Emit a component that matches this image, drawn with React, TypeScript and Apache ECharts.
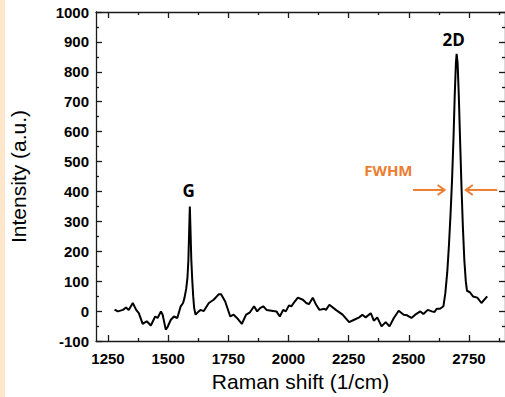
import React, { useEffect, useRef } from "react";
import * as echarts from "echarts";

// Raman spectrum (shift in 1/cm, intensity in a.u.)
const ramanShift = [
  1277, 1291, 1312, 1325, 1336, 1353, 1367, 1378, 1394, 1411, 1428, 1446, 1456, 1470, 1477,
  1490, 1497, 1511, 1524, 1538, 1552, 1562, 1568, 1575, 1580, 1584, 1587, 1590, 1593, 1596,
  1600, 1604, 1608, 1614, 1627, 1634, 1648, 1669, 1689, 1710, 1720, 1737, 1758, 1772, 1786,
  1806, 1824, 1840, 1857, 1870, 1882, 1895, 1909, 1950, 1964, 1978, 1989, 2002, 2012, 2026,
  2039, 2060, 2074, 2085, 2101, 2115, 2129, 2149, 2156, 2170, 2197, 2225, 2252, 2273, 2294,
  2307, 2321, 2342, 2355, 2369, 2387, 2404, 2420, 2438, 2458, 2479, 2493, 2511, 2527, 2548,
  2561, 2579, 2596, 2607, 2616, 2630, 2644, 2652, 2660, 2667, 2674, 2680, 2686, 2691, 2696,
  2699, 2703, 2708, 2713, 2719, 2725, 2731, 2737, 2742, 2754, 2767, 2785, 2802, 2826,
];
const intensity = [
  5, -1, 4, 12, 4, 27, 4, -7, -43, -34, -48, -18, -23, -1, -12,
  -62, -54, -29, -18, -23, 16, 27, 45, 75, 110, 170, 260, 350, 265, 175,
  105, 50, 10, -12, -1, 4, 0, 27, 38, 56, 56, 32, -18, -12, -23,
  -43, -12, -4, 16, -1, 10, 16, 4, -1, -18, 4, -1, 19, 16, 32,
  45, 38, 27, 23, 45, 21, 4, 8, 4, 21, 4, -12, -37, -29, -21,
  -12, -21, -7, -32, -21, -51, -37, -51, -23, 1, -12, -14, -23, -12, -1,
  -10, 4, -1, -3, 8, 8, 16, 60, 130, 220, 330, 440, 580, 720, 830,
  860, 830, 720, 580, 420, 280, 170, 100, 68, 63, 49, 45, 27, 49,
];

const xMajorTicks = [1250, 1500, 1750, 2000, 2250, 2500, 2750];
const xMinorTicks = [1375, 1625, 1875, 2125, 2375, 2625, 2875];

const X_MIN = 1200;
const X_MAX = 2900;
const Y_MIN = -100;
const Y_MAX = 1000;

const peakLabels = [
  { text: "G", x: 1585, y: 403 },
  { text: "2D", x: 2687, y: 907 },
];
const fwhmLabel = { text: "FWHM", x: 2415, y: 473 };
const fwhmArrowY = 405;
const leftArrow = { from: 2518, to: 2649 };
const rightArrow = { from: 2868, to: 2737 };

const AXIS_COLOR = "#1a1a1a";
const ORANGE = "#ed7d31";

export default function App() {
  const ref = useRef<HTMLDivElement>(null);

  useEffect(() => {
    if (!ref.current) return;
    const chart = echarts.init(ref.current, undefined, { renderer: "svg" });
    const lineStyle = { color: AXIS_COLOR, width: 1.3 };
    const tickLabel = {
      color: "#000",
      fontFamily: "Liberation Sans, Arial, sans-serif",
      fontWeight: "bold" as const,
      fontSize: 15,
      formatter: (v: number) => String(v),
    };
    const nameStyle = {
      color: "#000",
      fontFamily: "Liberation Sans, Arial, sans-serif",
      fontSize: 21,
    };
    const xBase = (
      position: string,
      ticks: number[],
      len: number,
      showLine: boolean,
      extra: any = {}
    ) => ({
      type: "value",
      min: X_MIN,
      max: X_MAX,
      position,
      axisLine: { show: showLine, onZero: false, lineStyle },
      axisTick: { show: true, inside: true, length: len, customValues: ticks, lineStyle },
      axisLabel: { show: false },
      splitLine: { show: false },
      ...extra,
    });
    const yBase = (position: string, extra: any = {}) => ({
      type: "value",
      min: Y_MIN,
      max: Y_MAX,
      interval: 100,
      position,
      axisLine: { show: true, onZero: false, lineStyle },
      axisTick: { show: true, inside: true, length: 6, lineStyle },
      minorTick: { show: true, splitNumber: 2, length: 3, lineStyle },
      axisLabel: { show: false },
      splitLine: { show: false },
      minorSplitLine: { show: false },
      ...extra,
    });

    chart.setOption({
      animation: false,
      backgroundColor: "#fff",
      grid: { left: 94.5, top: 12, width: 413.3, height: 331, containLabel: false },
      xAxis: [
        xBase("bottom", xMajorTicks, 6, true, {
          axisLabel: { show: true, customValues: xMajorTicks, margin: 10, ...tickLabel },
          name: "Raman shift (1/cm)",
          nameLocation: "middle",
          nameGap: 30,
          nameTextStyle: nameStyle,
        }),
        xBase("bottom", xMinorTicks, 3, false),
        xBase("top", xMajorTicks, 6, true),
        xBase("top", xMinorTicks, 3, false),
      ],
      yAxis: [
        yBase("left", {
          axisLabel: { show: true, margin: 7, ...tickLabel },
          name: "Intensity (a.u.)",
          nameLocation: "middle",
          nameGap: 67,
          nameTextStyle: nameStyle,
        }),
        yBase("right"),
      ],
      series: [
        {
          type: "line",
          xAxisIndex: 0,
          yAxisIndex: 0,
          data: ramanShift.map((x, i) => [x, intensity[i]]),
          showSymbol: false,
          symbol: "none",
          lineStyle: { color: "#000", width: 2 },
          clip: true,
        },
      ],
    });

    const toPx = (x: number, y: number) =>
      chart.convertToPixel({ xAxisIndex: 0, yAxisIndex: 0 }, [x, y]) as number[];

    const graphics: any[] = [
      {
        type: "rect",
        shape: { x: 0, y: 0, width: 5, height: 397 },
        style: { fill: "#fde6c9" },
        z: 100,
      },
    ];
    peakLabels.forEach((l) => {
      const [px, py] = toPx(l.x, l.y);
      graphics.push({
        type: "text",
        x: px,
        y: py,
        style: {
          text: l.text,
          fill: "#000",
          font: "bold 17px 'Open Sans', sans-serif",
          align: "center",
          verticalAlign: "middle",
        },
        z: 100,
      });
    });
    {
      const [px, py] = toPx(fwhmLabel.x, fwhmLabel.y);
      graphics.push({
        type: "text",
        x: px,
        y: py,
        style: {
          text: fwhmLabel.text,
          fill: ORANGE,
          font: "bold 15px 'Open Sans', sans-serif",
          align: "center",
          verticalAlign: "middle",
        },
        z: 100,
      });
    }
    const arrow = (a: { from: number; to: number }) => {
      const [x1, y] = toPx(a.from, fwhmArrowY);
      const [x2] = toPx(a.to, fwhmArrowY);
      const dir = x2 > x1 ? 1 : -1;
      const st = { stroke: ORANGE, lineWidth: 2, fill: "none" };
      graphics.push({
        type: "line",
        shape: { x1, y1: y, x2: x2 - dir * 1, y2: y },
        style: st,
        z: 100,
      });
      graphics.push({
        type: "polyline",
        shape: {
          points: [
            [x2 - dir * 7, y - 5],
            [x2, y],
            [x2 - dir * 7, y + 5],
          ],
        },
        style: st,
        z: 100,
      });
    };
    arrow(leftArrow);
    arrow(rightArrow);
    chart.setOption({ graphic: graphics });

    return () => chart.dispose();
  }, []);

  return (
    <div
      ref={ref}
      style={{ position: "fixed", left: 0, top: 0, width: 505, height: 397, background: "#fff" }}
    />
  );
}
